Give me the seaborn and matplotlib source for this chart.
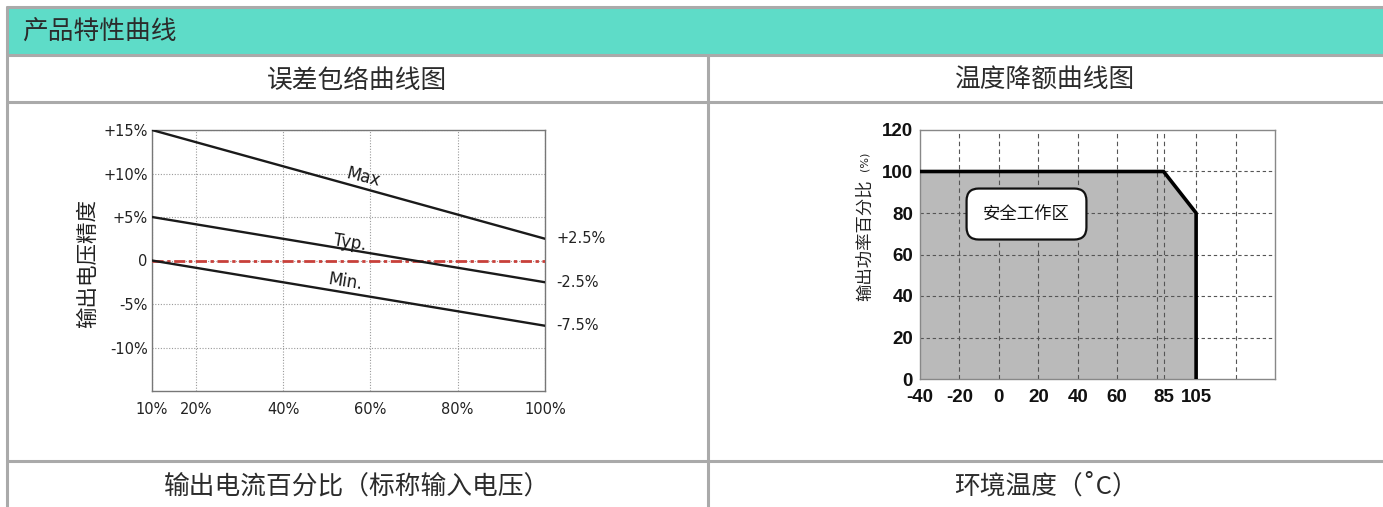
import numpy as np
import pandas as pd
import matplotlib
matplotlib.use("Agg")
import matplotlib.pyplot as plt
from matplotlib.lines import Line2D
from matplotlib.patches import Rectangle
import seaborn as sns

# ---------------- data ----------------
header_title = "产品特性曲线"
left_title = "误差包络曲线图"
right_title = "温度降额曲线图"
left_xlabel = "输出电流百分比（标称输入电压）"
right_xlabel = "环境温度（˚C）"
left_ylabel = "输出电压精度"
right_ylabel = "输出功率百分比"
right_ylabel_unit = "(%)"

load_pct = [10, 100]
acc_max = [15, 2.5]
acc_typ = [5, -2.5]
acc_min = [0, -7.5]
acc_nominal = [0, 0]
curve_names = ["Max", "Typ.", "Min."]
acc_yticks = [15, 10, 5, 0, -5, -10]
acc_yticklabels = ["+15%", "+10%", "+5%", "0", "-5%", "-10%"]
load_xticks = [10, 20, 40, 60, 80, 100]
load_xticklabels = ["10%", "20%", "40%", "60%", "80%", "100%"]

temp_c = [-40, 85, 105, 105]
power_pct = [100, 100, 80, 0]
temp_ticks = [-40, -20, 0, 20, 40, 60, 85, 105]
power_ticks = [0, 20, 40, 60, 80, 100, 120]
safe_zone_label = "安全工作区"

# ---------------- style ----------------
sns.set_theme(style="white")
plt.rcParams["font.family"] = ["Noto Sans CJK SC", "DejaVu Sans"]
plt.rcParams["axes.unicode_minus"] = False

W, H = 1383, 507
fig = plt.figure(figsize=(W / 100, H / 100), dpi=100)
fig.patch.set_facecolor("white")


def fx(x):
    return x / W


def fy(y):
    return 1 - y / H


# ---------------- table frame ----------------
TEAL = "#5edcc8"
LINE = "#aaaaaa"
fig.add_artist(Rectangle((fx(7), fy(55)), fx(W - 7), (55 - 7) / H,
                         transform=fig.transFigure, facecolor=TEAL,
                         edgecolor="none", zorder=0))
for yy in [7, 55, 102, 461]:
    fig.add_artist(Line2D([fx(7), 1], [fy(yy), fy(yy)], transform=fig.transFigure,
                          color=LINE, lw=2.2, zorder=1))
fig.add_artist(Line2D([fx(7), fx(7)], [fy(7), 0], transform=fig.transFigure,
                      color=LINE, lw=2.2, zorder=1))
fig.add_artist(Line2D([fx(708), fx(708)], [fy(55), 0], transform=fig.transFigure,
                      color=LINE, lw=2.2, zorder=1))

TXT = "#2b2b2b"
fig.text(fx(22), fy(33), header_title, ha="left", va="center", fontsize=18.5, color=TXT)
fig.text(fx(357.5), fy(81), left_title, ha="center", va="center", fontsize=18.5, color=TXT)
fig.text(fx(1045.5), fy(81), right_title, ha="center", va="center", fontsize=18.5, color=TXT)
fig.text(fx(357.5), fy(487), left_xlabel, ha="center", va="center", fontsize=18.5, color=TXT)
fig.text(fx(1045.5), fy(487), right_xlabel, ha="center", va="center", fontsize=18.5,
         color=TXT, family=["Noto Sans CJK SC", "DejaVu Sans"])

# ---------------- left chart: error envelope ----------------
ax1 = fig.add_axes([fx(152), fy(391), (545 - 152) / W, (391 - 130) / H])
df = pd.DataFrame({
    "load": load_pct * 3,
    "acc": acc_max + acc_typ + acc_min,
    "curve": [curve_names[0]] * 2 + [curve_names[1]] * 2 + [curve_names[2]] * 2,
})
sns.lineplot(data=df, x="load", y="acc", units="curve", estimator=None,
             color="#1a1a1a", lw=1.7, ax=ax1, zorder=4)
sns.lineplot(x=load_pct, y=acc_nominal, color="#c8403a", lw=2.0,
             linestyle=(0, (4, 1.3, 1.2, 1.3)), ax=ax1, zorder=3)
ax1.set_xlim(10, 100)
ax1.set_ylim(-15, 15)
ax1.set_xticks(load_xticks)
ax1.set_xticklabels(load_xticklabels)
ax1.set_yticks(acc_yticks)
ax1.set_yticklabels(acc_yticklabels)
ax1.grid(True, color="#9a9a9a", lw=0.8, linestyle=(0, (1, 1.5)))
ax1.tick_params(length=0, labelsize=10.5, colors="#222222")
ax1.tick_params(axis="x", pad=8)
ax1.tick_params(axis="y", pad=3)
for lab in ax1.get_xticklabels() + ax1.get_yticklabels():
    lab.set_family("DejaVu Sans")
for sp in ax1.spines.values():
    sp.set_color("#777777")
    sp.set_linewidth(1.0)
ax1.set_xlabel("")
ax1.set_ylabel("")

label_pos = [(58.3, 9.6, -14), (55.3, 2.1, -9), (54.2, -2.5, -9)]
for name, (lx, ly, rot) in zip(curve_names, label_pos):
    ax1.text(lx, ly, name, ha="center", va="center", rotation=rot, fontsize=12,
             family="DejaVu Sans", color="#1a1a1a", zorder=5)
for series in [acc_max, acc_typ, acc_min]:
    v = series[-1]
    ax1.annotate(f"{v:+.1f}%", xy=(1, v), xycoords=("axes fraction", "data"),
                 xytext=(8, 0), textcoords="offset points", ha="left", va="center",
                 fontsize=10.5, family="DejaVu Sans", color="#222222",
                 annotation_clip=False)

fig.text(fx(88), fy(264), left_ylabel, rotation=90, ha="center", va="center",
         fontsize=15.5, color="#222222")

# ---------------- right chart: temperature derating ----------------
ax2 = fig.add_axes([fx(920), fy(379), (1275 - 920) / W, (379 - 130) / H])
T_KNOTS = [-100, 80, 85, 105, 200]
V_KNOTS = [-100, 80, 83.5, 100, 195]


def fwd(t):
    return np.interp(t, T_KNOTS, V_KNOTS)


def inv(v):
    return np.interp(v, V_KNOTS, T_KNOTS)


ax2.set_xscale("function", functions=(fwd, inv))
ax2.fill_between(temp_c, power_pct, 0, color="#bababa", lw=0, zorder=1)
for gx in [-20, 0, 20, 40, 60, 80, 85, 105, 125]:
    ax2.axvline(gx, color="#555555", lw=0.8, linestyle=(0, (4, 3)), zorder=2)
for gy in [20, 40, 60, 80, 100]:
    ax2.axhline(gy, color="#555555", lw=0.8, linestyle=(0, (3, 2.5)), zorder=2)
sns.lineplot(x=temp_c, y=power_pct, sort=False, estimator=None, color="black",
             lw=2.6, ax=ax2, zorder=3)
ax2.set_xlim(-40, 145)
ax2.set_ylim(0, 120)
ax2.set_xticks(temp_ticks)
ax2.set_xticklabels([str(t) for t in temp_ticks])
ax2.set_yticks(power_ticks)
ax2.set_yticklabels([str(p) for p in power_ticks])
ax2.minorticks_off()
ax2.tick_params(length=0, labelsize=13.5, colors="#111111")
ax2.tick_params(axis="x", pad=7)
ax2.tick_params(axis="y", pad=5)
for lab in ax2.get_xticklabels() + ax2.get_yticklabels():
    lab.set_family(["Liberation Sans Narrow", "Liberation Sans"])
    lab.set_fontweight("bold")
for sp in ax2.spines.values():
    sp.set_color("#888888")
    sp.set_linewidth(1.0)
ax2.set_xlabel("")
ax2.set_ylabel("")
ax2.text(14, 79.5, safe_zone_label, ha="center", va="center", fontsize=12.5,
         color="#111111", zorder=5,
         bbox=dict(boxstyle="round,pad=0.95,rounding_size=0.7", fc="white",
                   ec="#111111", lw=1.6))

fig.text(fx(865), fy(240), right_ylabel, rotation=90, ha="center", va="center",
         fontsize=12.5, color="#222222")
fig.text(fx(865), fy(161), right_ylabel_unit, rotation=90, ha="center", va="center",
         fontsize=8, color="#222222", family="DejaVu Sans")

fig.savefig("out.png", dpi=100, facecolor="white")
